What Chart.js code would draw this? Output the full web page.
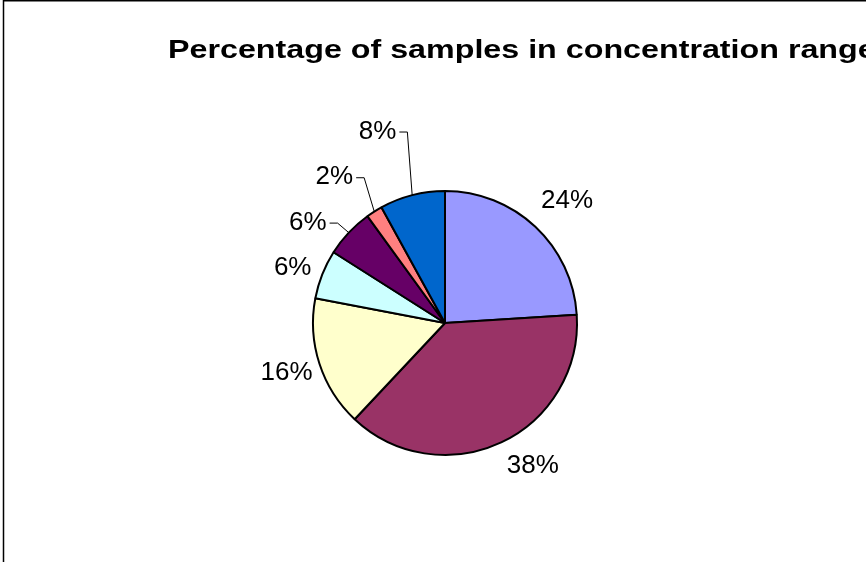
<!DOCTYPE html>
<html>
<head>
<meta charset="utf-8">
<title>Percentage of samples in concentration range</title>
<script src="https://cdn.jsdelivr.net/npm/chart.js@4.4.0/dist/chart.umd.min.js"></script>
<style>
  html, body { margin: 0; padding: 0; background: #fff; overflow: hidden; }
  canvas { display: block; }
</style>
</head>
<body>
<canvas id="pieChart" width="866" height="562"></canvas>
<script>
// share of samples per concentration range, clockwise from 12 o'clock
const ranges = ['Range 1', 'Range 2', 'Range 3', 'Range 4', 'Range 5', 'Range 6', 'Range 7'];
const shares = [24, 38, 16, 6, 6, 2, 8];

const sliceColors = ['#9999FF', '#993366', '#FFFFCC', '#CCFFFF', '#660066', '#FF8080', '#0066CC'];

// where each percent label sits: distance from centre, angle nudge (deg), leader line or not
const labelSpots = [
  [173, 1.7, false],
  [168, -6.3, false],
  [166, 0.6, false],
  [162, -1.7, false],
  [170, -7.0, true],
  [183, -4.8, true],
  [203, -5.0, true]
];

const titleText = 'Percentage of samples in concentration range';
const fontFamily = '"Liberation Sans", Arial, Helvetica, sans-serif';

// outer frame and the heading (heading is drawn stretched sideways)
const framePlugin = {
  id: 'frame',
  beforeDraw(chart) {
    const ctx = chart.ctx;
    ctx.save();
    ctx.fillStyle = '#fff';
    ctx.fillRect(0, 0, chart.width, chart.height);
    ctx.strokeStyle = '#000';
    ctx.lineWidth = 1.5;
    ctx.strokeRect(3.5, 0.75, chart.width + 20, chart.height + 20);
    ctx.fillStyle = '#000';
    ctx.font = 'bold 26px ' + fontFamily;
    ctx.textAlign = 'left';
    ctx.textBaseline = 'alphabetic';
    ctx.translate(168, 58);
    ctx.scale(1.24, 1);
    ctx.fillText(titleText, 0, 0);
    ctx.restore();
  }
};

// percent labels, with leader lines for the thin slices
const pctLabels = {
  id: 'pctLabels',
  afterDatasetsDraw(chart) {
    const ctx = chart.ctx;
    const meta = chart.getDatasetMeta(0);
    const data = chart.data.datasets[0].data;
    const total = data.reduce((a, b) => a + b, 0);
    ctx.save();
    ctx.font = '26px ' + fontFamily;
    ctx.fillStyle = '#000';
    ctx.strokeStyle = '#000';
    ctx.lineWidth = 1;
    ctx.textAlign = 'center';
    ctx.textBaseline = 'middle';
    meta.data.forEach((arc, i) => {
      const {x, y, startAngle, endAngle, outerRadius} = arc.getProps(['x', 'y', 'startAngle', 'endAngle', 'outerRadius'], true);
      const mid = (startAngle + endAngle) / 2;
      const [dist, nudge, leader] = labelSpots[i];
      const ang = mid + nudge * Math.PI / 180;
      const lx = x + Math.cos(ang) * dist;
      const ly = y + Math.sin(ang) * dist;
      const txt = Math.round(data[i] / total * 100) + '%';
      ctx.fillText(txt, lx, ly);
      if (leader) {
        const w = ctx.measureText(txt).width;
        const sx = lx + w / 2 + 3;
        ctx.beginPath();
        ctx.moveTo(sx, ly + 0.5);
        ctx.lineTo(sx + 8, ly + 0.5);
        ctx.lineTo(x + Math.cos(mid) * outerRadius, y + Math.sin(mid) * outerRadius);
        ctx.stroke();
      }
    });
    ctx.restore();
  }
};

new Chart(document.getElementById('pieChart'), {
  type: 'pie',
  data: {
    labels: ranges,
    datasets: [{
      data: shares,
      backgroundColor: sliceColors,
      borderColor: '#000',
      borderWidth: 2,
      borderAlign: 'center'
    }]
  },
  options: {
    responsive: false,
    animation: false,
    devicePixelRatio: 1,
    radius: 132,
    layout: { padding: { left: 100, right: 76, top: 120, bottom: 36 } },
    events: [],
    plugins: {
      legend: { display: false },
      title: { display: false },
      tooltip: { enabled: false }
    }
  },
  plugins: [framePlugin, pctLabels]
});
</script>
</body>
</html>
